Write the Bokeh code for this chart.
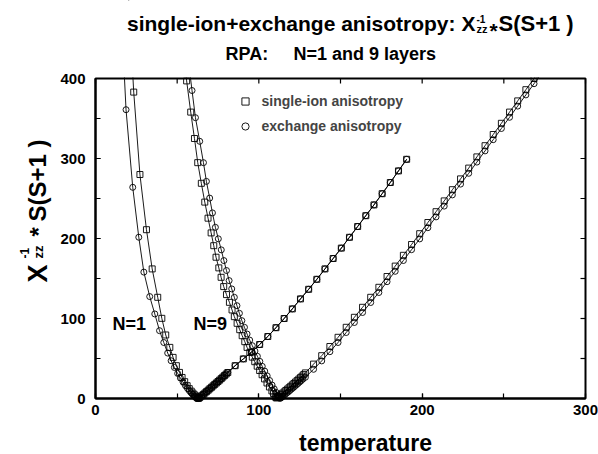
import math
from bokeh.plotting import figure
from bokeh.models import (Range1d, SingleIntervalTicker, Label,
                          Legend, LegendItem, BoxAnnotation)
from bokeh.embed import file_html
from bokeh.resources import INLINE

# ---------------- data ----------------
# N=1, single-ion anisotropy (squares), below Tc
n1_single_left_T = [20.0, 23.4, 27.2, 31.2, 34.7, 38.1, 40.6, 43.0, 45.5, 47.5, 49.5,
                    51.4, 53.0, 54.6, 56.1, 57.4, 58.6, 59.6, 60.5, 61.3, 62.0, 62.6, 63.0]
n1_single_left_chi = [510, 383, 280, 211, 162, 126.5, 100.2, 79.4, 63.9, 51.4, 41,
                      32.6, 26.3, 21, 16, 12.3, 9.2, 6.8, 4.7, 3.0, 1.7, 0.7, 0.1]
# N=1, exchange anisotropy (circles), below Tc
n1_exch_left_T = [15.8, 18.7, 22.8, 26.5, 29.6, 33.2, 36.3, 39.2, 41.8, 44.2, 46.3, 48.3,
                  50.3, 52.0, 53.6, 55.0, 56.3, 57.5, 58.6, 59.6, 60.5, 61.3, 62.0, 62.6, 63.0]
n1_exch_left_chi = [480, 361, 264, 201.6, 158, 127.4, 105.7, 84.8, 70, 56.8, 47.2, 38.8,
                    31.3, 25.5, 20.5, 16.3, 12.7, 9.7, 7.1, 5.0, 3.2, 1.8, 0.8, 0.3, 0.0]
# N=1, above Tc (both anisotropies coincide)
n1_right_T = [63.5, 64, 65, 66, 67, 68, 69, 70, 71, 72, 73, 74, 75, 76, 77, 78, 79, 80, 81,
              85.5, 90.5, 95.5, 100.5, 105.5, 110.5, 115.5, 120.5, 125.5, 130.5, 135.5,
              140.5, 145.5, 150.5, 155.5, 160.5, 165.5, 170.5, 175.5, 180.5, 185.5, 190.5]
n1_right_chi = [0.9, 1.7, 3.4, 5.1, 6.9, 8.6, 10.4, 12.2, 14.0, 15.8, 17.6, 19.4, 21.2, 23.0,
                24.9, 26.8, 28.7, 30.6, 32.5,
                41, 49.5, 58, 67.5, 77.5, 88.5, 100, 112, 124.5, 136.5, 149,
                162, 175, 188, 201.5, 215, 228.5, 242, 256, 270, 284.5, 299]

# N=9, single-ion anisotropy (squares)
n9_single_T = [53.8, 55.8, 58.3, 60.6, 62.6, 64.8, 66.9, 68.9, 70.8, 72.4, 73.8, 75.5, 76.9,
               78.5, 80.2, 82.0, 83.6, 85.0, 86.7, 88.3, 89.8, 91.4, 92.8, 94.5, 96.0, 97.5,
               99.0, 100.5, 102.0, 103.5, 105.0, 106.5, 108.0, 109.0, 110.0, 110.5,
               111, 111.5, 112, 112.5, 113.5, 114.5, 115.5, 116.5, 117.5, 118.5, 119.5, 120.5,
               121.5, 122.5, 123.5, 124.5, 125.5, 126.5, 127.5, 128.5, 133.5, 138.5, 143.5,
               148.5, 153.5, 158.5, 163.5, 168.5, 173.5, 178.5, 183.5, 188.5, 193.5, 198.5,
               203.5, 208.5, 213.5, 218.5, 223.5, 228.5, 233.5, 238.5, 243.5, 248.5, 253.5,
               258.5, 263.5, 268.5, 273.5]
n9_single_chi = [437, 397, 358, 325, 294.8, 269, 245.5, 225.4, 207, 191, 176.6, 163.3, 151.5,
                 139.9, 129.9, 120.2, 110.7, 102.3, 94, 86, 78.5, 71, 63.9, 57.6, 51.7, 46,
                 40.4, 35, 29.7, 24.5, 19.4, 14.4, 9.5, 6.2, 2.8, 1.0,
                 0.8, 1.6, 2.4, 3.2, 4.9, 6.6, 8.2, 10.0, 11.7, 13.4, 15.2, 17.0,
                 18.8, 20.6, 22.4, 24.3, 26.1, 28.0, 29.9, 32, 43, 53.5, 65,
                 76.5, 89, 101.5, 114, 126.5, 139, 152.5, 165.5, 179, 192.5, 206,
                 220, 233.5, 247, 261, 274.5, 288, 302, 316, 330, 344, 358,
                 372, 386, 400, 414]

# N=9, exchange anisotropy (circles)
n9_exch_T = [57.0, 59.1, 61.2, 63.8, 66.1, 67.9, 69.9, 71.6, 73.4, 75.2, 77.0, 78.6, 80.2,
             81.8, 83.4, 85.0, 86.6, 88.1, 89.6, 91.2, 92.8, 94.4, 96.0, 97.6, 99.1, 100.6,
             102.1, 103.6, 105.1, 106.6, 108.1, 109.4, 110.6, 111.7, 112.5, 113.0,
             113.5, 114, 114.5, 115, 116, 117, 118, 119, 120, 121, 122, 123, 124, 125, 126,
             127, 128.5, 133.5, 138.5, 143.5, 148.5, 153.5, 158.5, 163.5, 168.5, 173.5,
             178.5, 183.5, 188.5, 193.5, 198.5, 203.5, 208.5, 213.5, 218.5, 223.5, 228.5,
             233.5, 238.5, 243.5, 248.5, 253.5, 258.5, 263.5, 268.5, 273.5]
n9_exch_chi = [420, 385, 351, 321.5, 294.8, 271.4, 250.5, 232, 214, 199.6, 185.8, 172.4, 160,
               147.4, 137, 126.5, 116, 106.5, 97.3, 89, 80.6, 73, 66, 59.3, 52.8, 46.4,
               40.2, 34.2, 28.3, 22.5, 16.8, 12.0, 7.6, 3.8, 1.2, 0.1,
               0.8, 1.6, 2.4, 3.2, 4.9, 6.6, 8.2, 10.0, 11.7, 13.4, 15.2, 17.0, 18.8, 20.6, 22.4,
               24.3, 26.5, 36.5, 47, 58.5, 70, 82.5, 95, 107.5, 120, 132.5,
               146, 159, 172.5, 186, 199.5, 213.5, 227, 240.5, 254.5, 268, 281.5,
               295.5, 309.5, 323.5, 337.5, 351.5, 365.5, 379.5, 393.5, 407.5]

x_limits = (0, 300)
y_limits = (0, 400)
x_ticks_interval = 100
y_ticks_interval = 100
x_tick_marks = [0, 50, 100, 150, 200, 250, 300]          # labelled every 100
y_tick_marks = [0, 50, 100, 150, 200, 250, 300, 350, 400]

# ---------------- layout geometry (pixels) ----------------
W, H = 598, 454
FL, FR, FT, FB = 95, 585, 78, 398      # edges of the plotting box
X0, X1 = x_limits
Y0, Y1 = y_limits
TICK = 5


def px2x(px):
    return X0 + (px - FL) * (X1 - X0) / (FR - FL)


def px2y(py):
    return Y0 + (FB - py) * (Y1 - Y0) / (FB - FT)


# the frame covers the whole canvas so that the texts around the box are drawn
p = figure(width=W, height=H,
           x_range=Range1d(px2x(0), px2x(W)), y_range=Range1d(px2y(H), px2y(0)),
           output_backend="svg", toolbar_location=None,
           min_border=0, min_border_left=0, min_border_right=0,
           min_border_top=0, min_border_bottom=0)
p.grid.visible = False
p.outline_line_color = None
p.background_fill_color = "white"
p.border_fill_color = "white"

FONT = "Liberation Sans"


def style_axis(ax, interval, standoff=5):
    ax.ticker = SingleIntervalTicker(interval=interval, num_minor_ticks=2)
    ax.axis_line_width = 2
    ax.axis_line_color = "black"
    ax.major_tick_in = TICK
    ax.major_tick_out = 0
    ax.minor_tick_in = TICK
    ax.minor_tick_out = 0
    ax.major_tick_line_width = 1.2
    ax.minor_tick_line_width = 1.2
    ax.major_label_text_font = FONT
    ax.major_label_text_font_style = "bold"
    ax.major_label_text_color = "black"
    ax.major_label_text_font_size = "15px"
    ax.major_label_standoff = standoff


# bottom and left axes (with tick labels)
xb = p.xaxis[0]
yl = p.yaxis[0]
style_axis(xb, x_ticks_interval, 6)
style_axis(yl, y_ticks_interval, 10)
xb.fixed_location = Y0
xb.bounds = x_limits
yl.fixed_location = X0
yl.bounds = y_limits

# ---------------- series ----------------
LW = 0.9
MS = 6
series = [
    (n1_single_left_T + n1_right_T, n1_single_left_chi + n1_right_chi, "square"),
    (n1_exch_left_T + n1_right_T, n1_exch_left_chi + n1_right_chi, "circle"),
    (n9_single_T, n9_single_chi, "square"),
    (n9_exch_T, n9_exch_chi, "circle"),
]
marker_renderers = {}
for xs, ys, mk in series:
    p.line(xs, ys, line_color="black", line_width=LW)
    r = p.scatter(xs, ys, marker=mk, size=MS, fill_alpha=0, line_color="black",
                  line_width=0.9)
    marker_renderers.setdefault(mk, r)

# white mask above the plotting box (the curves leave the box at its top edge)
p.quad(left=[px2x(0)], right=[px2x(W)], bottom=[px2y(FT - 1.0)], top=[px2y(0)],
       fill_color="white", fill_alpha=1.0, line_alpha=0)

# mirrored ticks on the top and right edges, pointing inwards
p.ray(x=x_tick_marks, y=[Y1] * len(x_tick_marks), length=TICK, length_units="screen",
      angle=-math.pi / 2, line_color="black", line_width=1.2)
p.ray(x=[X1] * len(y_tick_marks), y=y_tick_marks, length=TICK, length_units="screen",
      angle=math.pi, line_color="black", line_width=1.2)

# outline of the plotting box
p.add_layout(BoxAnnotation(left=X0, right=X1, bottom=Y0, top=Y1, fill_alpha=0,
                           line_color="black", line_alpha=1.0, line_width=2))

legend = Legend(items=[
    LegendItem(label="single-ion anisotropy", renderers=[marker_renderers["square"]]),
    LegendItem(label="exchange anisotropy", renderers=[marker_renderers["circle"]]),
], location=(235.5, H - 90.7 - 45))
legend.label_text_font = FONT
legend.label_text_font_style = "bold"
legend.label_text_font_size = "14px"
legend.glyph_width = 18
legend.glyph_height = 20
legend.label_height = 20
legend.spacing = 5
legend.padding = 0
legend.margin = 0
legend.label_standoff = 8
legend.border_line_alpha = 0
legend.background_fill_alpha = 0
p.add_layout(legend)


def add_text(px, py, text, size, align="left", angle=0.0, style="bold"):
    p.add_layout(Label(x=px2x(px), y=px2y(py), text=text, text_font=FONT,
                       text_font_style=style, text_font_size=size,
                       text_align=align, text_baseline="alphabetic",
                       text_color="black", angle=angle))


# title
add_text(455, 23, "single-ion+exchange anisotropy:", "21px", align="right")
add_text(461, 23, "X", "21px")
add_text(476, 18, "-1", "10px")
add_text(476, 28, "zz", "11px")
add_text(489, 30, "*", "21px")
add_text(498, 23, "S(S+1 )", "22px")
# subtitle
add_text(225, 53, "RPA:", "18px")
add_text(293, 53, "N=1 and 9 layers", "18px")

# curve labels
add_text(112, 323, "N=1", "18px")
add_text(193, 323, "N=9", "18px")

# x axis title
add_text(365, 442, "temperature", "23px", align="center")

# y axis title (rotated)
A = math.pi / 2
add_text(37, 282, "X", "27px", angle=A)
add_text(24, 258, "-1", "12px", angle=A)
add_text(38, 258, "zz", "13px", angle=A)
add_text(38, 236, "*", "24px", angle=A)
add_text(37, 221, "S(S+1 )", "24px", angle=A)

open("out.html", "w").write(file_html(p, INLINE))
